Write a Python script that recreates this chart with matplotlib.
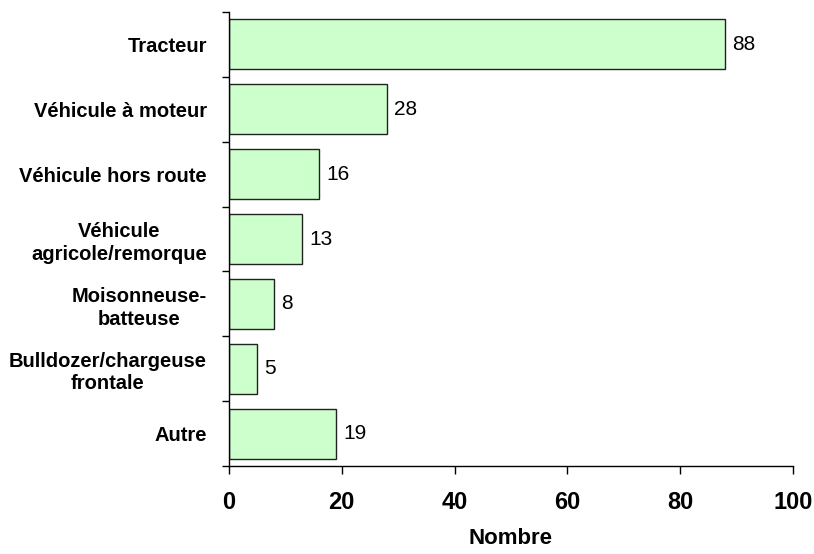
import matplotlib
matplotlib.use('Agg')
from matplotlib import pyplot as plt

plt.rcParams['font.family'] = ['Liberation Sans', 'DejaVu Sans']

categories = ['Tracteur', 'Véhicule à moteur', 'Véhicule hors route',
              'Véhicule\nagricole/remorque', 'Moisonneuse-\nbatteuse',
              'Bulldozer/chargeuse\nfrontale', 'Autre']
values = [88, 28, 16, 13, 8, 5, 19]
x_ticks = [0, 20, 40, 60, 80, 100]
x_label = 'Nombre'

fig = plt.figure(figsize=(8.14, 5.54), dpi=100)
ax = fig.add_axes([0.2813, 0.1588, 0.6929, 0.8195])

pos = list(range(len(categories)))
ax.barh(pos, values, height=0.77, color='#CCFFCC', edgecolor='#222222', linewidth=1)
for p, v in zip(pos, values):
    ax.text(v + 1.2, p, str(v), va='center', ha='left', fontsize=15)

ax.set_ylim(len(categories) - 0.5, -0.5)
ax.set_xlim(0, 100)
ax.set_xticks(x_ticks)
ax.set_xticklabels([str(t) for t in x_ticks], fontsize=17, fontweight='bold')
ax.tick_params(axis='x', length=6, width=1, pad=12, direction='out')

# ticks between categories, labels in the middle
ax.set_yticks([i + 0.5 for i in range(-1, len(categories))])
ax.set_yticklabels([])
ax.set_yticks(pos, minor=True)
ax.set_yticklabels(categories, minor=True, fontsize=14.5, fontweight='bold',
                   multialignment='center', linespacing=1.25)
ax.tick_params(axis='y', which='major', length=5, width=1, direction='out')
ax.tick_params(axis='y', which='minor', length=0, pad=16)

ax.spines['top'].set_visible(False)
ax.spines['right'].set_visible(False)
ax.spines['left'].set_linewidth(1)
ax.spines['bottom'].set_linewidth(1)

ax.set_xlabel(x_label, fontsize=16, fontweight='bold', labelpad=10)

fig.savefig('out.png', dpi=100)
